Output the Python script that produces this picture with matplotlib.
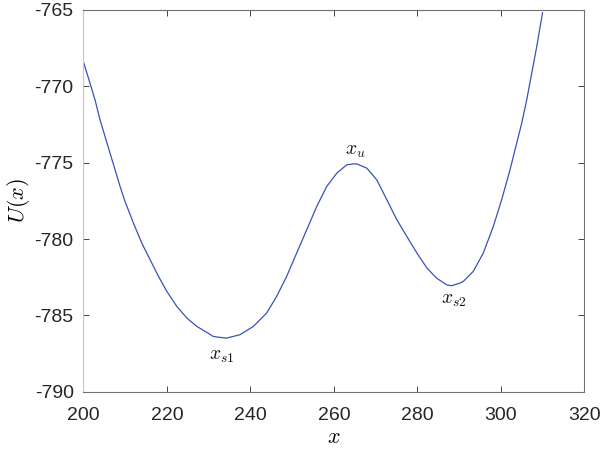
import matplotlib
matplotlib.use("Agg")
import matplotlib.pyplot as plt

# points
x_vals = [200.0, 201.6, 202.8, 204.0, 205.2, 206.4, 207.6, 208.8, 210.0, 212.0,
          214.0, 216.0, 218.0, 220.0, 222.4, 224.8, 227.2, 229.6, 231.1, 232.0,
          234.3, 237.5, 240.7, 243.9, 246.3, 248.7, 251.1, 253.5, 255.9, 258.3,
          260.7, 263.1, 264.7, 265.5, 267.9, 270.3, 272.7, 275.1, 277.5, 279.9,
          282.3, 284.6, 287.0, 288.2, 290.2, 291.0, 292.2, 293.4, 295.8, 298.2,
          300.2, 302.2, 303.8, 305.0, 306.2, 307.4, 308.6, 310.0]
u_vals = [-768.38, -769.80, -770.89, -772.20, -773.29, -774.38, -775.47, -776.56,
          -777.55, -778.96, -780.27, -781.36, -782.45, -783.43, -784.42, -785.18,
          -785.73, -786.12, -786.38, -786.42, -786.49, -786.27, -785.73, -784.85,
          -783.76, -782.45, -780.92, -779.40, -777.87, -776.56, -775.69, -775.14,
          -775.08, -775.08, -775.36, -776.13, -777.43, -778.74, -779.84, -780.92,
          -781.90, -782.56, -783.00, -783.06, -782.89, -782.78, -782.45, -782.12,
          -780.92, -779.18, -777.43, -775.47, -773.72, -772.42, -770.89, -769.14,
          -767.40, -765.18]

x_ticks = [200, 220, 240, 260, 280, 300, 320]
y_ticks = [-790, -785, -780, -775, -770, -765]

# labels for the equilibrium points
point_labels = [r"$x_{s1}$", r"$x_u$", r"$x_{s2}$"]
point_x = [233.1, 265.1, 288.8]
point_y = [-787.7, -774.3, -784.0]

plt.rcParams["font.family"] = ["Liberation Sans", "DejaVu Sans"]
plt.rcParams["mathtext.fontset"] = "cm"
plt.rcParams["axes.unicode_minus"] = False

fig = plt.figure(figsize=(6.04, 4.5), dpi=100)
ax = fig.add_axes([0.138, 0.1296, 0.8294, 0.8482])

ax.plot(x_vals, u_vals, color="#3a52b8", linewidth=0.9)

for lab, px, py in zip(point_labels, point_x, point_y):
    ax.text(px, py, lab, fontsize=14, ha="center", va="center", color="#111111")

ax.set_xlim(200, 320)
ax.set_ylim(-790, -765)
ax.set_xticks(x_ticks)
ax.set_yticks(y_ticks)
ax.tick_params(direction="in", top=True, right=True, labelsize=14,
               colors="#262626", length=4, width=0.6)
ax.tick_params(axis="x", pad=11)
ax.tick_params(axis="y", pad=7)
for s in ax.spines.values():
    s.set_color("#707070")
    s.set_linewidth(0.8)
ax.spines["left"].set_color("#c8c8c8")

ax.set_xlabel(r"$x$", fontsize=16, labelpad=2)
ax.set_ylabel(r"$U(x)$", fontsize=16, labelpad=2)

fig.savefig("out.png", dpi=100)
